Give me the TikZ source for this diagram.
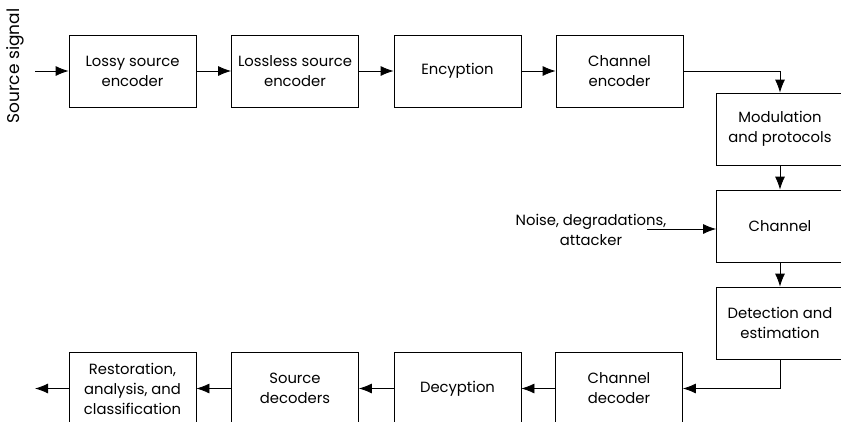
\documentclass[tikz,border=0pt]{standalone}
\usepackage{fontspec}
\setmainfont{Poppins}
\usetikzlibrary{arrows.meta}
\begin{document}
\begin{tikzpicture}[x=1pt,y=-1pt,
  font=\fontsize{14.8}{20}\selectfont,
  blk/.style={draw, line width=0.8pt, minimum width=127pt, minimum height=72pt,
    inner sep=0pt, align=center},
  flow/.style={draw, line width=0.8pt, -{Latex[length=13pt,width=10pt]}}]
\useasboundingbox (0,0) rectangle (841,421);
% transmitter chain
\node[blk] (lossy) at (132.5,71) {Lossy source\\encoder};
\node[blk] (lossless) at (295,71) {Lossless source\\encoder};
\node[blk] (enc) at (457.5,71) {Encyption};
\node[blk] (chenc) at (619.5,71) {Channel\\encoder};
% right column
\node[blk] (mod) at (780,129) {Modulation\\and protocols};
\node[blk] (chan) at (780,226) {Channel};
\node[blk] (det) at (780,323) {Detection and\\estimation};
% receiver chain
\node[blk] (chdec) at (619,388.5) {Channel\\decoder};
\node[blk] (dec) at (457.5,388.5) {Decyption};
\node[blk] (srcdec) at (295,388.5) {Source\\decoders};
\node[blk] (rest) at (132.5,388.5) {Restoration,\\analysis, and\\classification};
% side labels
\node[rotate=90, font=\fontsize{17}{20}\selectfont] (src) at (15,66) {Source signal};
\node[align=center] (noise) at (591,230) {Noise, degradations,\\attacker};
\coordinate (srcin) at (35,71);
\coordinate (noisein) at (647,229);
\coordinate (out) at (35,388.5);
% connectors
\draw[flow] (srcin) -- (lossy);
\draw[flow] (lossy) -- (lossless);
\draw[flow] (lossless) -- (enc);
\draw[flow] (enc) -- (chenc);
\draw[flow] (chenc.east) -| (mod.north);
\draw[flow] (mod) -- (chan);
\draw[flow] (noisein) -- (noisein -| chan.west);
\draw[flow] (chan) -- (det);
\draw[flow] (det.south) |- (chdec.east);
\draw[flow] (chdec) -- (dec);
\draw[flow] (dec) -- (srcdec);
\draw[flow] (srcdec) -- (rest);
\draw[flow] (rest) -- (out);
\end{tikzpicture}
\end{document}
